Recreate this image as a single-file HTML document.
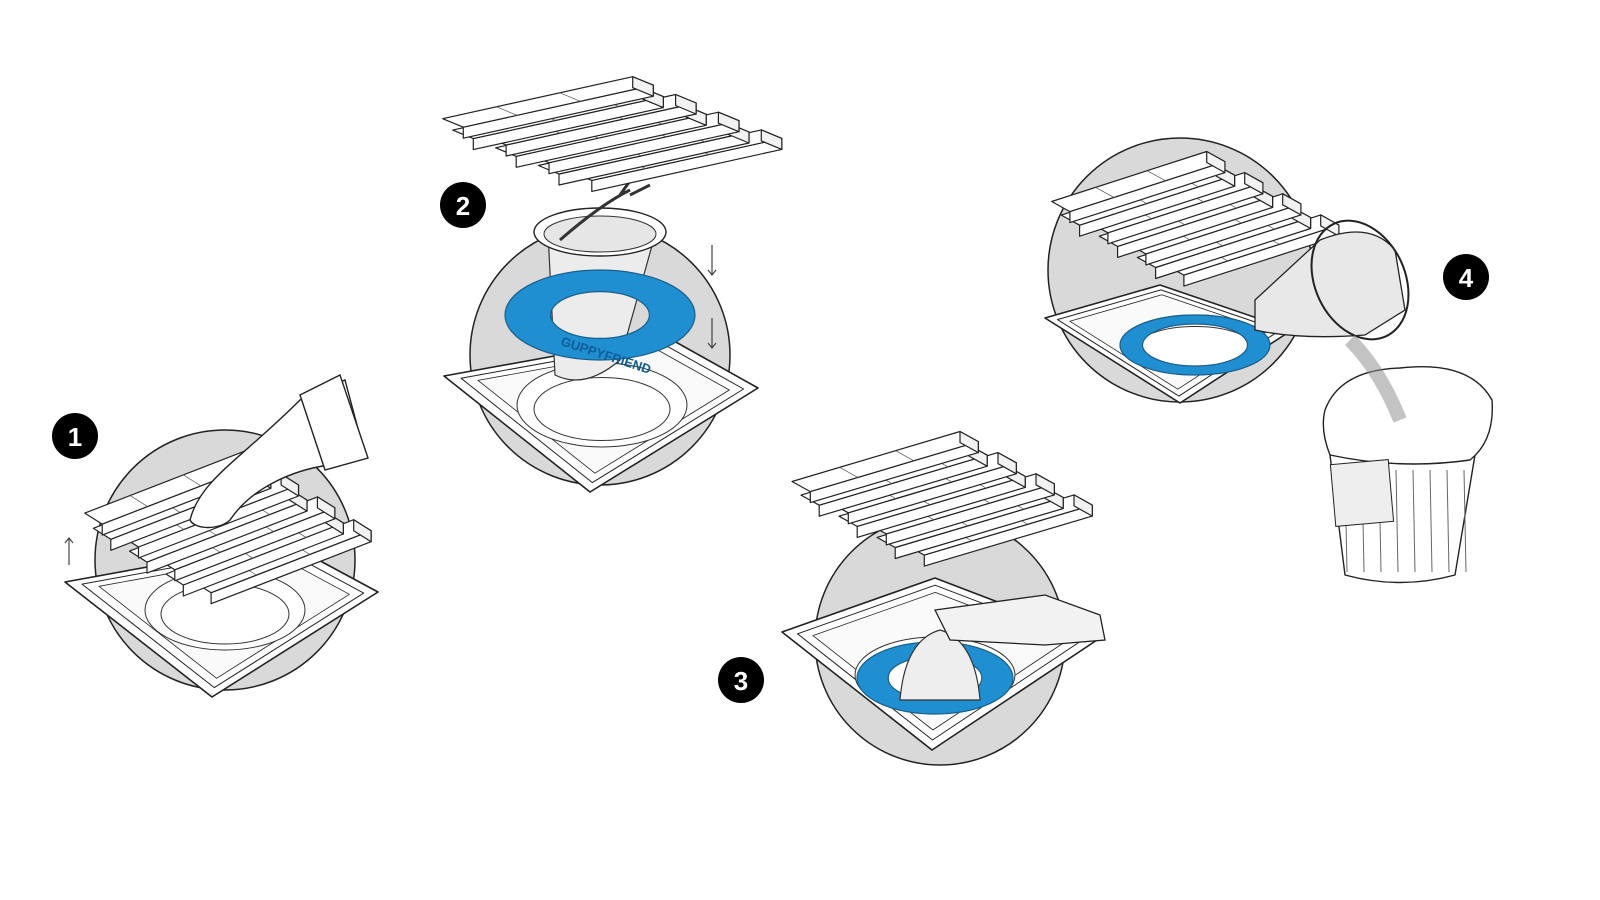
<!DOCTYPE html>
<html><head><meta charset="utf-8"><style>
html,body{margin:0;padding:0;background:#fff;width:1600px;height:900px;overflow:hidden}
svg{display:block}
text{font-family:"Liberation Sans",sans-serif;font-weight:bold}
</style></head><body>
<svg id="s" width="1600" height="900" viewBox="0 0 1600 900" xmlns="http://www.w3.org/2000/svg">
<g stroke="#222" stroke-width="1.5" fill="#d9d9d9">
<circle cx="225" cy="560" r="130"/>
<circle cx="600" cy="355" r="130"/>
<circle cx="940" cy="640" r="125"/>
<circle cx="1180" cy="270" r="132"/>
</g>
<g id="dyn"></g>
<g fill="#000"><circle cx="75" cy="436" r="23"/><circle cx="463" cy="205" r="23"/><circle cx="741" cy="680" r="23"/><circle cx="1466" cy="277" r="23"/></g>
<g fill="#fff" font-size="26" text-anchor="middle"><text x="75" y="446">1</text><text x="463" y="215">2</text><text x="741" y="690">3</text><text x="1466" y="287">4</text></g>
<g stroke="#444" stroke-width="1.2" fill="none"><path d="M69 565V538M65 543l4-5 4 5"/><path d="M712 245v30M708 270l4 5 4-5M712 318v30M708 343l4 5 4-5"/></g>
</svg>
<script>
var out='';
function P(a){return a.map(function(p){return p[0].toFixed(1)+','+p[1].toFixed(1)}).join(' ')}
function poly(a,f,sw){out+='<polygon points="'+P(a)+'" fill="'+f+'" stroke="#222" stroke-width="'+(sw||1.4)+'" stroke-linejoin="round"/>'}
function tray(a,b,c,d,hc,hr){
 poly([a,b,c,d],'#fff',1.6);
 var cx=(a[0]+b[0]+c[0]+d[0])/4,cy=(a[1]+b[1]+c[1]+d[1])/4;
 function ins(p,k){return [cx+(p[0]-cx)*k,cy+(p[1]-cy)*k]}
 poly([ins(a,.9),ins(b,.9),ins(c,.9),ins(d,.9)],'#fff',1);
 poly([ins(a,.8),ins(b,.8),ins(c,.8),ins(d,.8)],'#fafafa',0.8);
 out+='<ellipse cx="'+hc[0]+'" cy="'+hc[1]+'" rx="'+hr[0]+'" ry="'+hr[1]+'" fill="#fff" stroke="#333" stroke-width="1"/>';
 out+='<ellipse cx="'+hc[0]+'" cy="'+(hc[1]+4)+'" rx="'+(hr[0]*0.8)+'" ry="'+(hr[1]*0.75)+'" fill="#fff" stroke="#333" stroke-width="1"/>';
}
function grate(O,D,S,n){
 var w=0.96,t=11;
 for(var i=n-1;i>=0;i--){
  var o=[O[0]+S[0]*i/n,O[1]+S[1]*i/n];
  var sh=(i%2)?-0.03:0.03;
  var a=[o[0]+D[0]*sh,o[1]+D[1]*sh],b=[o[0]+D[0]*(1+sh),o[1]+D[1]*(1+sh)];
  var c=[b[0]+S[0]*w/n,b[1]+S[1]*w/n],d=[a[0]+S[0]*w/n,a[1]+S[1]*w/n];
  poly([d,c,[c[0],c[1]+t],[d[0],d[1]+t]],'#fff',1.2);
  poly([a,b,c,d],'#fff',1.2);
  poly([b,c,[c[0],c[1]+t],[b[0],b[1]+t]],'#f2f2f2',1.2);
  for(var k=1;k<3;k++){var m=[a[0]+D[0]*(k/3+(i%2?0.1:-0.05)),a[1]+D[1]*(k/3+(i%2?0.1:-0.05))];out+='<line x1="'+m[0]+'" y1="'+m[1]+'" x2="'+(m[0]+S[0]*w/n)+'" y2="'+(m[1]+S[1]*w/n)+'" stroke="#555" stroke-width=".7"/>';}
 }
}
function ring(cx,cy,rx,ry,k){
 out+='<path fill-rule="evenodd" d="M'+(cx-rx)+','+cy+'a'+rx+','+ry+' 0 1,0 '+(2*rx)+',0a'+rx+','+ry+' 0 1,0 '+(-2*rx)+',0Z M'+(cx-rx*k)+','+cy+'a'+rx*k+','+ry*k+' 0 1,0 '+(2*rx*k)+',0a'+rx*k+','+ry*k+' 0 1,0 '+(-2*rx*k)+',0Z" fill="#1f8fd2" stroke="#1a5f8a" stroke-width="1.2"/>';
}
// scene 1
tray([65,582],[285,542],[378,592],[212,697],[225,610],[80,40]);
grate([80,515],[160,-62],[127,80],7);
out+='<path d="M190 520 C200 480 240 460 300 400 L345 380 L365 455 L330 465 C290 470 250 490 230 520 C220 530 195 530 190 520Z" fill="#fff" stroke="#222" stroke-width="1.4"/>';
out+='<path d="M300 395 L340 375 L368 458 L325 470Z" fill="#fff" stroke="#222" stroke-width="1.4"/>';
// scene 2
tray([444,376],[665,336],[758,388],[590,492],[602,405],[85,42]);
out+='<path d="M548 232 L555 375 Q585 390 620 360 L655 235Z" fill="#ececec" stroke="#333" stroke-width="1.2"/>';
out+='<ellipse cx="600" cy="232" rx="66" ry="24" fill="#fff" stroke="#222" stroke-width="1.4"/><ellipse cx="600" cy="234" rx="56" ry="18" fill="#e6e6e6" stroke="#333"/>';
out+='<path d="M560 240 Q600 205 630 190 M620 195 L632 178 M630 195 L650 185" stroke="#333" stroke-width="3" fill="none"/>';
ring(600,315,95,45,0.52);
out+='<text x="560" y="345" font-size="13" fill="#0f5f95" transform="rotate(18 560 345)">GUPPYFRIEND</text>';
grate([437,120],[190,-42],[150,62],7);
// scene 3
tray([782,632],[935,578],[1097,640],[932,750],[935,675],[80,38]);
ring(935,678,78,36,0.6);
out+='<path d="M900 700 Q905 640 940 630 Q975 640 980 700Z" fill="#eee" stroke="#333" stroke-width="1.2"/>';
out+='<path d="M935 610 L1045 595 L1100 615 L1105 640 L1045 645 L950 640Z" fill="#f2f2f2" stroke="#222" stroke-width="1.3"/>';
grate([787,483],[168,-50],[133,74],7);
// scene 4
tray([1045,318],[1160,285],[1292,330],[1180,403],[1195,345],[75,30]);
ring(1195,345,75,30,0.7);
grate([1047,203],[155,-50],[133,74],7);
out+='<path d="M1255 300 L1320 240 Q1370 220 1395 250 L1405 310 L1365 335 Q1300 340 1255 330Z" fill="#e8e8e8" stroke="#222" stroke-width="1.3"/>';
out+='<ellipse cx="1360" cy="280" rx="45" ry="62" fill="none" stroke="#222" stroke-width="2" transform="rotate(-25 1360 280)"/>';
out+='<path d="M1330 455 L1345 575 Q1400 590 1455 575 L1475 455Z" fill="#fff" stroke="#222" stroke-width="1.4"/>';
for(var i=0;i<8;i++){var x=1345+i*17;out+='<line x1="'+x+'" y1="470" x2="'+(x+2)+'" y2="572" stroke="#666" stroke-width="1"/>';}
out+='<path d="M1325 410 Q1340 370 1400 368 Q1470 360 1492 400 Q1495 440 1470 460 Q1400 470 1330 455 Q1320 430 1325 410Z" fill="#fff" stroke="#222" stroke-width="1.4"/>';
out+='<rect x="1333" y="462" width="58" height="62" fill="#eee" stroke="#222" transform="rotate(-5 1362 493)"/>';
out+='<path d="M1350 340 Q1380 370 1400 420" stroke="#888" stroke-width="14" fill="none" opacity=".5"/>';
document.getElementById('dyn').innerHTML=out;
</script>
</body></html>
